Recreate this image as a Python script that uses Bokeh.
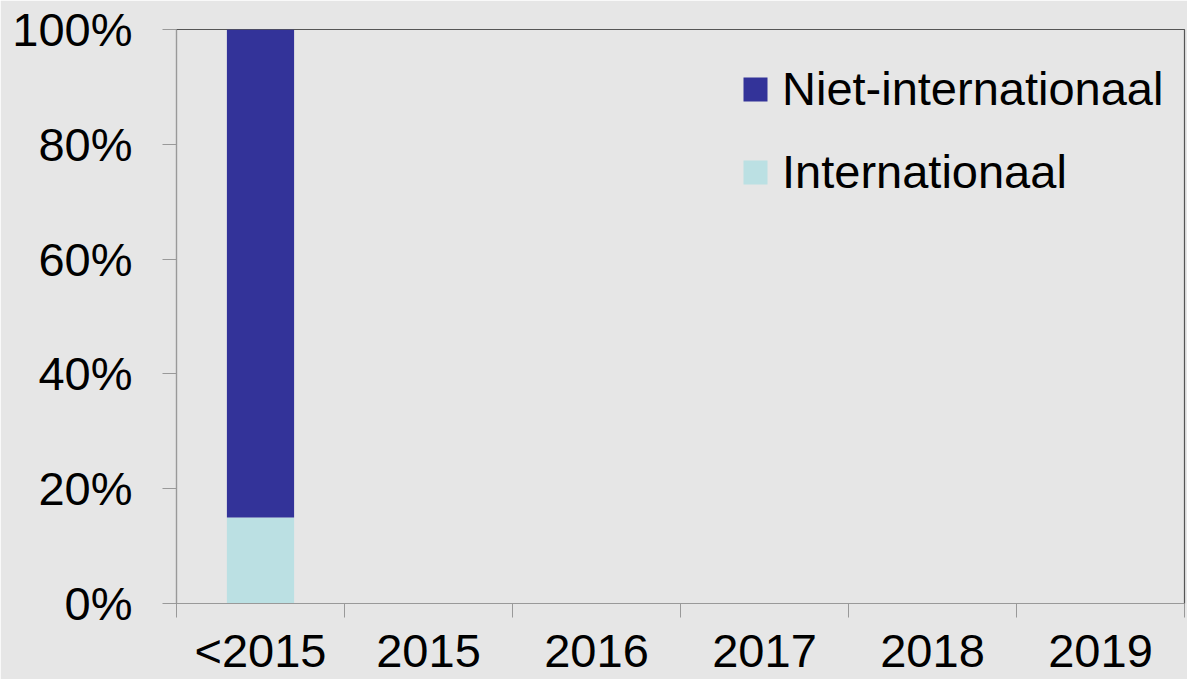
from bokeh.plotting import figure
from bokeh.models import (Range1d, FixedTicker, NumeralTickFormatter, Legend, LegendItem,
                          ColumnDataSource)
from bokeh.embed import file_html
from bokeh.resources import INLINE

categories = ["<2015", "2015", "2016", "2017", "2018", "2019"]
internationaal = [0.15, 0, 0, 0, 0, 0]
niet_internationaal = [0.85, 0, 0, 0, 0, 0]
y_ticks = [0, 0.2, 0.4, 0.6, 0.8, 1.0]

BG = "#e6e6e6"
FONT = "Liberation Sans"

xpos = [i + 0.5 for i in range(len(categories))]
bottom2 = internationaal
top2 = [a + b for a, b in zip(internationaal, niet_internationaal)]
src = ColumnDataSource(dict(x=xpos, i0=[0] * len(categories), i1=internationaal,
                            n0=bottom2, n1=top2))

W, H = 1187, 679
BL, BR, BT, BB = 176, 3, 29, 75
p = figure(width=W, height=H, output_backend="svg", toolbar_location=None,
           x_range=Range1d(0, len(categories)), y_range=Range1d(0, 1),
           min_border_left=BL, min_border_right=BR, min_border_top=BT, min_border_bottom=BB)
p.background_fill_color = BG
p.border_fill_color = BG
p.outline_line_color = "#555555"
p.outline_line_width = 1.2
p.xgrid.visible = False
p.ygrid.visible = False

r_int = p.vbar(x="x", bottom="i0", top="i1", width=0.4, source=src,
               fill_color="#bbe0e3", line_color=None)
r_niet = p.vbar(x="x", bottom="n0", top="n1", width=0.4, source=src,
                fill_color="#333399", line_color=None)

# x axis: labels at category centres, tick marks at category boundaries
xt = FixedTicker(ticks=xpos, minor_ticks=list(range(len(categories) + 1)))
p.xaxis.ticker = xt
p.xaxis.major_label_overrides = {x: c for x, c in zip(xpos, categories)}
p.xaxis.major_tick_line_color = None
p.xaxis.major_tick_out = 0
p.xaxis.major_tick_in = 0
p.xaxis.minor_tick_out = 14
p.xaxis.minor_tick_in = 0
p.xaxis.minor_tick_line_color = "#999999"
p.xaxis.axis_line_color = "#999999"
p.xaxis.major_label_standoff = 6

p.yaxis.ticker = FixedTicker(ticks=y_ticks, minor_ticks=[])
p.yaxis.formatter = NumeralTickFormatter(format="0%")
p.yaxis.major_tick_out = 14
p.yaxis.major_tick_in = 0
p.yaxis.major_tick_line_color = "#999999"
p.yaxis.axis_line_color = "#999999"
p.yaxis.major_label_standoff = 30

for ax in (p.xaxis, p.yaxis):
    ax.major_label_text_font = FONT
    ax.major_label_text_font_size = "47px"
    ax.major_label_text_color = "black"

legend = Legend(items=[LegendItem(label="Niet-internationaal", renderers=[r_niet]),
                       LegendItem(label="Internationaal", renderers=[r_int])],
                location=(564, 404))
legend.label_text_font = FONT
legend.label_text_font_size = "47px"
legend.label_text_color = "black"
legend.glyph_width = 30
legend.glyph_height = 30
legend.label_standoff = 12
legend.spacing = 28
legend.background_fill_alpha = 0
legend.border_line_color = None
legend.margin = 0
legend.padding = 10
p.add_layout(legend)

open("out.html", "w").write(file_html(p, INLINE))
